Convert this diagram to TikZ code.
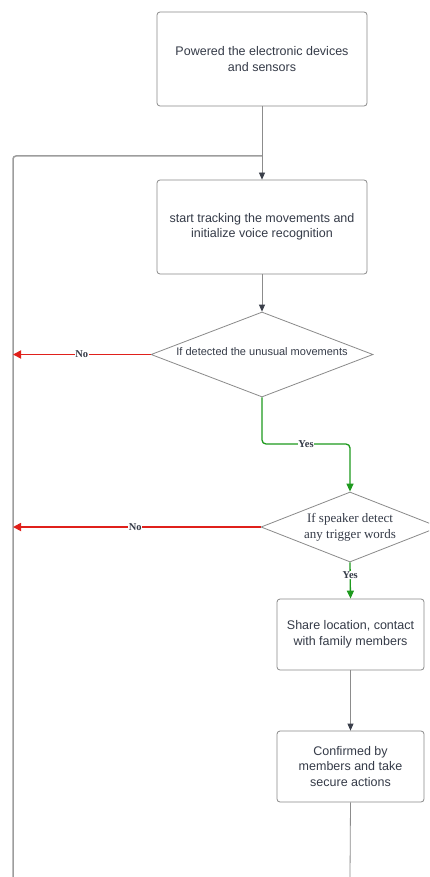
\documentclass[tikz,border=0pt]{standalone}
\usepackage{fontspec}
\setmainfont{Liberation Serif}
\setsansfont{Liberation Sans}
\usetikzlibrary{shapes.geometric,arrows.meta}
\definecolor{txt}{HTML}{353B48}
\definecolor{edge}{HTML}{8A8A8A}
\definecolor{lnk}{HTML}{8C8C8C}
\definecolor{tip}{HTML}{3A3F4A}
\definecolor{nored}{HTML}{E0201B}
\definecolor{yesgreen}{HTML}{1E9A1E}
\tikzset{
  procbox/.style={draw=edge, line width=0.8pt, rounded corners=3pt, fill=white, inner sep=0pt, align=center, text=txt, font=\sffamily\fontsize{12.5}{15.5}\selectfont},
  decbox/.style={draw=edge, line width=0.8pt, diamond, inner sep=0pt, fill=white},
  flow/.style={draw=lnk, line width=0.8pt, -{Triangle[length=7pt,width=6pt,color=tip]}},
  flowplain/.style={draw=lnk, line width=0.8pt},
  noarrow/.style={draw=nored, line width=1.7pt, -{Triangle[length=8pt,width=8pt]}},
  yesarrow/.style={draw=yesgreen, line width=1.3pt, rounded corners=4pt, -{Triangle[length=8pt,width=7pt]}},
  edgelabel/.style={fill=white, inner sep=0.5pt, font=\rmfamily\bfseries\fontsize{10.5}{12}\selectfont, text=txt},
  loopline/.style={draw=lnk!85, line width=1.5pt, rounded corners=3pt}
}
\begin{document}
\begin{tikzpicture}[x=1pt,y=-1pt]
\clip (0,0) rectangle (429,877);
\fill[white] (0,0) rectangle (429,877);

\node[procbox, minimum width=210pt, minimum height=94pt] (b1) at (262,59) {Powered the electronic devices\\and sensors};
\node[procbox, minimum width=210pt, minimum height=94pt] (b2) at (262,227) {start tracking the movements and\\initialize voice recognition};
\node[decbox, minimum width=222pt, minimum height=85pt] (d1) at (262,354.5) {};
\node[font=\sffamily\fontsize{11}{13}\selectfont, text=txt] (d1t) at (262,352) {If detected the unusual movements};
\node[decbox, minimum width=178pt, minimum height=70pt] (d2) at (350,527) {};
\node[font=\rmfamily\fontsize{13}{16}\selectfont, text=txt, align=center] (d2t) at (350,527) {If speaker detect\\any trigger words};
\node[procbox, minimum width=147pt, minimum height=71pt] (b3) at (350.5,634.5) {Share location, contact\\with family members};
\node[procbox, minimum width=147pt, minimum height=71pt] (b4) at (350.5,766.5) {Confirmed by\\members and take\\secure actions};

\coordinate (bot) at (13,877);
\coordinate (join) at (262,156);
\coordinate (n1) at (13,354.5);
\coordinate (n2) at (13,527);
\coordinate (yb) at (262,444);
\coordinate (yr) at (350,444);
\coordinate (end) at (350,877);

% loop back line
\draw[loopline] (bot) -- (13,156) -- (join);
% main flow
\draw[flow] (b1.south) -- (b2.north);
\draw[flow] (b2.south) -- (d1.north);
\draw[flow] (b3.south) -- (b4.north);
\draw[flowplain] (b4.south) -- (end);

% decisions
\draw[noarrow] (d1.west) -- (n1) node[edgelabel, pos=0.5] {No};
\draw[noarrow] (d2.west) -- (n2) node[edgelabel, pos=0.506] {No};
\draw[yesarrow] (d1.south) -- (yb) -- (yr) -- (d2.north);
\node[edgelabel] (yl1) at (306,444) {Yes};
\draw[yesarrow] (d2.south) -- (b3.north) node[edgelabel, pos=0.35] {Yes};
\end{tikzpicture}
\end{document}
